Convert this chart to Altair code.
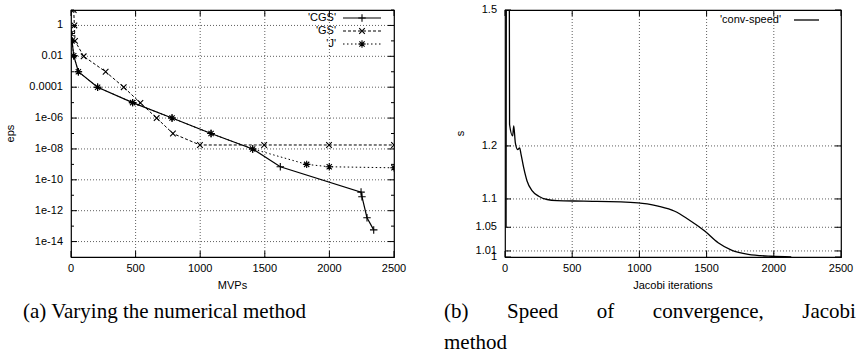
import altair as alt
import pandas as pd

# ---------------- data ----------------
# (a) eps vs MVPs, log y
cgs_x = [0, 8, 21, 57, 206, 477, 782, 1084, 1406, 1620, 2245, 2252, 2291, 2343]
cgs_y = [0.3, 0.1, 0.011, 1e-3, 1e-4, 1e-5, 1e-6, 1e-7, 1e-8, 7e-10, 1.6e-11, 8e-12, 3.5e-13, 5.7e-14]
gs_x = [21, 26, 31, 98, 268, 408, 537, 663, 789, 998, 1495, 1997, 2500]
gs_y = [10, 1, 0.1, 0.01, 1e-3, 1e-4, 9.6e-6, 1e-6, 1e-7, 1.8e-8, 1.8e-8, 1.8e-8, 1.8e-8]
j_x = [0, 8, 21, 57, 206, 477, 782, 1084, 1406, 1824, 1999, 2500]
j_y = [0.3, 0.1, 0.011, 1e-3, 1e-4, 1e-5, 1e-6, 1e-7, 1e-8, 1e-9, 7e-10, 6e-10]

# (b) s vs Jacobi iterations
cs_x = [8, 12, 30, 34, 57, 65, 77, 94, 109, 119, 139, 164, 201, 251, 313, 387, 586,
        990, 1139, 1263, 1362, 1486, 1586, 1685, 1810, 1983, 2130]
cs_y = [1.05, 2.0, 2.0, 1.243, 1.22, 1.24, 1.206, 1.193, 1.196, 1.184, 1.158, 1.133,
        1.115, 1.105, 1.099, 1.097, 1.096, 1.093, 1.087, 1.078, 1.064, 1.0436, 1.0238,
        1.0115, 1.0044, 1.0012, 1.0003]

x_ticks = [0, 500, 1000, 1500, 2000, 2500]
x_tick_labels = ["0", "500", "1000", "1500", "2000", "2500"]
x_grid = [500, 1000, 1500, 2000]
left_major = [1, 1e-2, 1e-4, 1e-6, 1e-8, 1e-10, 1e-12, 1e-14]
left_major_labels = ["1", "0.01", "0.0001", "1e-06", "1e-08", "1e-10", "1e-12", "1e-14"]
left_minor = [10, 1e-1, 1e-3, 1e-5, 1e-7, 1e-9, 1e-11, 1e-13]
right_ticks = [1, 1.01, 1.05, 1.1, 1.2, 1.5]
right_tick_labels = ["1", "1.01", "1.05", "1.1", "1.2", "1.5"]
right_grid = [1.01, 1.05, 1.1, 1.2]

legend_left = ["'CGS'", "'GS'", "'J'"]
legend_right = ["'conv-speed'"]
titles_left = ["MVPs", "eps"]
titles_right = ["Jacobi iterations", "s"]
caption_a = "(a) Varying the numerical method"
SP = "\u2003\u2002\u2005\u200a"
caption_b = ["(b)" + SP + "Speed" + SP + "of" + SP + "convergence," + SP + "Jacobi", "method"]

# ---------------- styling ----------------
SANS = "Liberation Sans"
SERIF = "Liberation Serif"
LW, RW, H = 323, 336, 247
GRID = dict(color="#5f5f5f", strokeDash=[1, 2], strokeWidth=1)
TXT = dict(font=SANS, fontSize=11, color="black")

PLUS = "M-1,0L1,0M0,-1L0,1"
XMK = "M-0.75,-0.75L0.75,0.75M-0.75,0.75L0.75,-0.75"
STAR = "M-1,0L1,0M0,-1L0,1M-0.7,-0.7L0.7,0.7M-0.7,0.7L0.7,-0.7"

xs = alt.Scale(domain=[0, 2500], nice=False, zero=False)
ysl = alt.Scale(type="log", domain=[1e-15, 10], nice=False)
ysr = alt.Scale(type="log", domain=[1, 1.5], nice=False)


def df(**cols):
    return pd.DataFrame(cols)


def tick_layers(width, yscale, ymajor, yminor):
    layers = []
    for xv, x2v in [(0, 6), (width, width - 6)]:
        layers.append(alt.Chart(df(v=ymajor)).mark_rule(color="black").encode(
            y=alt.Y("v:Q", scale=yscale, axis=None), x=alt.value(xv), x2=alt.value(x2v)))
    if yminor:
        for xv, x2v in [(0, 3), (width, width - 3)]:
            layers.append(alt.Chart(df(v=yminor)).mark_rule(color="black").encode(
                y=alt.Y("v:Q", scale=yscale, axis=None), x=alt.value(xv), x2=alt.value(x2v)))
    for yv, y2v in [(H, H - 6), (0, 6)]:
        layers.append(alt.Chart(df(v=x_ticks)).mark_rule(color="black").encode(
            x=alt.X("v:Q", scale=xs, axis=None), y=alt.value(yv), y2=alt.value(y2v)))
    return layers


def series(xv, yv, yscale, dash, shape, sw=1.0):
    d = df(x=xv, y=yv)
    line_kw = dict(color="black", strokeWidth=sw, clip=True)
    if dash:
        line_kw["strokeDash"] = dash
    line = alt.Chart(d).mark_line(**line_kw).encode(
        x=alt.X("x:Q", scale=xs, axis=None), y=alt.Y("y:Q", scale=yscale, axis=None))
    pts = alt.Chart(d).mark_point(shape=shape, filled=False, size=56, color="black",
                                  strokeWidth=1.1, opacity=1, clip=True).encode(
        x=alt.X("x:Q", scale=xs, axis=None), y=alt.Y("y:Q", scale=yscale, axis=None))
    return [line, pts]


def legend_entry(name, row_y, text_x, l0, l1, dash, shape, sw=1.0):
    one = df(k=[0])
    out = [alt.Chart(one).mark_text(text=name, align="right", baseline="middle", **TXT).encode(
        x=alt.value(text_x), y=alt.value(row_y))]
    kw = dict(color="black", strokeWidth=sw)
    if dash:
        kw["strokeDash"] = dash
    out.append(alt.Chart(one).mark_rule(**kw).encode(
        x=alt.value(l0), x2=alt.value(l1), y=alt.value(row_y)))
    if shape:
        out.append(alt.Chart(one).mark_point(shape=shape, filled=False, size=56, color="black",
                                             strokeWidth=1.1, opacity=1).encode(
            x=alt.value((l0 + l1) / 2), y=alt.value(row_y)))
    return out


def build(width, yscale, ymajor, ylabels, yminor, ygrid, xtitle, ytitle, ytitle_x):
    one = df(k=[0])
    layers = [
        alt.Chart(df(v=x_grid)).mark_rule(**GRID).encode(x=alt.X("v:Q", scale=xs, axis=None)),
        alt.Chart(df(v=ygrid)).mark_rule(**GRID).encode(y=alt.Y("v:Q", scale=yscale, axis=None)),
    ]
    layers += tick_layers(width, yscale, ymajor, yminor)
    layers += [
        # y tick labels
        alt.Chart(df(v=ymajor, t=ylabels)).mark_text(align="right", baseline="middle", **TXT).encode(
            y=alt.Y("v:Q", scale=yscale, axis=None), x=alt.value(-8), text="t:N"),
        # x tick labels
        alt.Chart(df(v=x_ticks, t=x_tick_labels)).mark_text(align="center", baseline="top", **TXT).encode(
            x=alt.X("v:Q", scale=xs, axis=None), y=alt.value(H + 6), text="t:N"),
        # axis titles
        alt.Chart(one).mark_text(text=xtitle, align="center", baseline="middle", **TXT).encode(
            x=alt.value(width / 2), y=alt.value(H + 29)),
        alt.Chart(one).mark_text(text=ytitle, align="center", baseline="middle", angle=270, **TXT).encode(
            x=alt.value(ytitle_x), y=alt.value(H / 2)),
    ]
    return layers


# ---------------- left chart ----------------
left_layers = build(LW, ysl, left_major, left_major_labels, left_minor, left_major,
                    titles_left[0], titles_left[1], -60)
left_layers += series(cgs_x, cgs_y, ysl, None, PLUS, sw=1.2)
left_layers += series(gs_x, gs_y, ysl, [3, 2], XMK)
left_layers += series(j_x, j_y, ysl, [1.5, 2.5], STAR)
left_layers += legend_entry(legend_left[0], 8, 265, 272, 310, None, PLUS, sw=1.2)
left_layers += legend_entry(legend_left[1], 21, 265, 272, 310, [3, 2], XMK)
left_layers += legend_entry(legend_left[2], 34, 265, 272, 310, [1.5, 2.5], STAR)

left = alt.layer(*left_layers).properties(
    width=LW, height=H,
    title=alt.TitleParams(text=caption_a, orient="bottom", anchor="start", frame="group",
                          dx=-48, offset=10, font=SERIF, fontSize=21, fontWeight="normal",
                          color="black"))

# ---------------- right chart ----------------
right_layers = build(RW, ysr, right_ticks, right_tick_labels, None, right_grid,
                     titles_right[0], titles_right[1], -44)
right_layers.append(alt.Chart(df(x=cs_x, y=cs_y)).mark_line(
    color="black", strokeWidth=1.3, clip=True, interpolate="monotone").encode(
    x=alt.X("x:Q", scale=xs, axis=None), y=alt.Y("y:Q", scale=ysr, axis=None)))
right_layers += legend_entry(legend_right[0], 10, 276, 289, 314, None, None, sw=1.3)

right = alt.layer(*right_layers).properties(
    width=RW, height=H,
    title=alt.TitleParams(text=caption_b, orient="bottom", anchor="start", frame="group",
                          dx=-61, offset=10, font=SERIF, fontSize=21, fontWeight="normal",
                          color="black", lineHeight=31))

chart = alt.hconcat(left, right, spacing=111, bounds="flush").properties(
    padding={"left": 4, "top": 3, "right": 0, "bottom": 0},
    background="white",
).configure_view(stroke="black", strokeWidth=1.2)

chart.save("out.html", embed_options={"renderer": "svg", "actions": False})
